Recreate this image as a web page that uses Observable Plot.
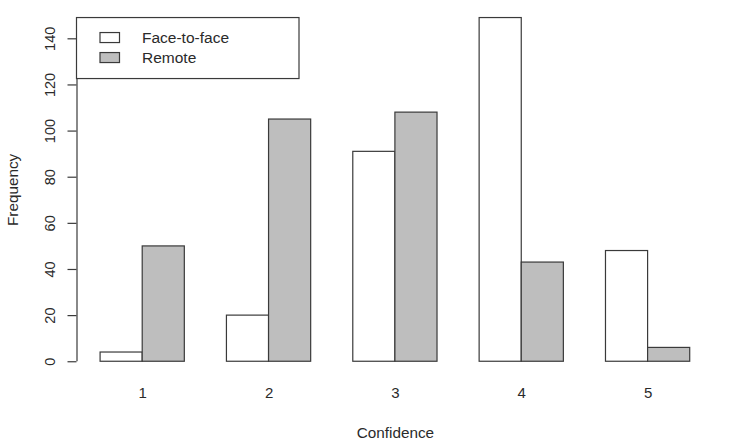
<!DOCTYPE html>
<html>
<head>
<meta charset="utf-8">
<script src="https://cdn.jsdelivr.net/npm/d3@7"></script>
<script src="https://cdn.jsdelivr.net/npm/@observablehq/plot@0.6"></script>
<style>
  html, body { margin: 0; padding: 0; background: #fff; }
  #chart { position: relative; width: 750px; height: 448px; }
</style>
</head>
<body>
<div id="chart"></div>
<script>
// ---- data ----
const categories = ["1", "2", "3", "4", "5"];
const seriesNames = ["Face-to-face", "Remote"];
const faceToFace = [4, 20, 91, 149, 48];
const remote = [50, 105, 108, 43, 6];
const yTicks = [0, 20, 40, 60, 80, 100, 120, 140];
const xTitle = "Confidence";
const yTitle = "Frequency";

// ---- build table like R's barplot(beside = TRUE, space = c(0, 1)) ----
const seriesValues = [faceToFace, remote];
const rows = [];
categories.forEach((c, i) => {
  seriesNames.forEach((s, j) => {
    const left = 1 + 3 * i + j;
    rows.push({category: c, series: s, value: seriesValues[j][i], x1: left, x2: left + 1});
  });
});
const groupCenters = categories.map((c, i) => 2 + 3 * i);
const xLo = 1, xHi = 3 * categories.length;
const xPad = 0.04 * (xHi - xLo);
const yMax = d3.max(rows, d => d.value);
const yPad = 0.04 * yMax;

const ink = "#3a3a3a";
const textInk = "#2a2a2a";
const font = "'Liberation Sans', Arial, sans-serif";

const plot = Plot.plot({
  width: 750,
  height: 448,
  marginLeft: 76.5,
  marginRight: 36.7,
  marginTop: 3.8,
  marginBottom: 73,
  style: {fontFamily: font, fontSize: "14.5px", color: textInk, background: "white"},
  x: {type: "linear", domain: [xLo - xPad, xHi + xPad], axis: null},
  y: {domain: [-yPad, yMax + yPad], axis: null},
  color: {domain: seriesNames, range: ["white", "#bebebe"]},
  marks: [
    Plot.rectY(rows, {x1: "x1", x2: "x2", y: "value", fill: "series", stroke: ink, strokeWidth: 1.2}),
    // y axis (left), R style: line spans first to last tick
    Plot.ruleX([xLo - xPad], {y1: yTicks[0], y2: yTicks[yTicks.length - 1], stroke: ink, strokeWidth: 1.2}),
    Plot.axisY({ticks: yTicks, tickSize: 9, tickPadding: 13, tickRotate: -90, stroke: ink, strokeWidth: 1.2, fill: textInk, fontSize: 14.5, label: null}),
    // x category labels (no ticks)
    Plot.axisX({ticks: groupCenters, tickSize: 0, tickPadding: 12, tickFormat: (d) => categories[(d - 2) / 3], fill: textInk, fontSize: 15, label: null}),
    // axis titles
    Plot.text([xTitle], {frameAnchor: "bottom", dy: 58, text: d => d, fill: textInk, fontSize: 15.3, textAnchor: "middle", lineAnchor: "middle"}),
    Plot.text([yTitle], {frameAnchor: "left", dx: -64, rotate: -90, text: d => d, fill: textInk, fontSize: 15.3, textAnchor: "middle", lineAnchor: "middle"})
  ]
});

document.getElementById("chart").appendChild(plot);

// ---- legend, placed in user coordinates like R's legend(x = xmin, y = max) ----
const xs = plot.scale("x"), ys = plot.scale("y"), cs = plot.scale("color");
const lx = xs.apply(xs.domain[0]);
const ly = ys.apply(yMax);
const svg = d3.select(plot.tagName.toLowerCase() === "svg" ? plot : plot.querySelector("svg"));
const g = svg.append("g").attr("font-family", font).attr("font-size", 15.5).attr("text-anchor", "start");
g.append("rect").attr("x", lx).attr("y", ly).attr("width", 222.5).attr("height", 61)
  .attr("fill", "white").attr("stroke", ink).attr("stroke-width", 1.2);
seriesNames.forEach((s, k) => {
  g.append("rect").attr("x", lx + 23.5).attr("y", ly + 15 + 20 * k).attr("width", 19.5).attr("height", 10)
    .attr("fill", cs.apply(s)).attr("stroke", ink).attr("stroke-width", 1.2);
  g.append("text").attr("x", lx + 65.5).attr("y", ly + 20.5 + 20 * k).attr("dy", "0.35em")
    .attr("text-anchor", "start").attr("fill", textInk).text(s);
});
</script>
</body>
</html>
